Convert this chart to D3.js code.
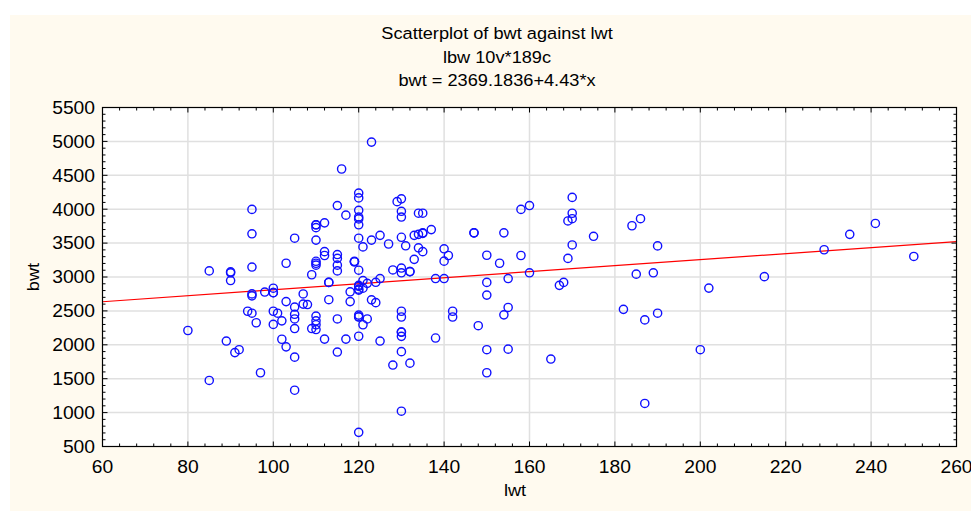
<!DOCTYPE html>
<html><head><meta charset="utf-8">
<script src="https://cdn.jsdelivr.net/npm/d3@7"></script>
<style>
html,body{margin:0;padding:0;background:#fff;}
text{font-family:"Liberation Sans",Arial,sans-serif;fill:#000;}
</style></head>
<body>
<svg id="chart" width="971" height="511"></svg>
<script>
// Low birth weight data (lbw): mother's weight (lwt) and birth weight (bwt)
const lwt = [182,155,105,108,107,124,118,103,123,113,95,150,95,107,100,100,98,118,120,120,121,100,202,120,120,167,122,150,168,113,113,90,121,155,125,140,138,124,215,109,185,189,130,160,90,90,132,132,115,85,120,128,130,95,115,110,110,153,103,119,119,119,110,140,133,169,115,250,141,158,112,150,115,112,135,229,140,134,121,190,131,170,110,127,123,120,105,130,175,125,133,134,235,95,135,135,154,147,147,137,110,184,110,110,120,241,112,169,120,170,186,120,130,117,170,134,135,130,120,95,158,160,115,129,130,120,170,120,116,123,
120,130,187,105,85,150,97,128,132,165,105,91,115,130,92,150,200,155,103,125,89,102,112,117,138,130,120,130,130,80,110,105,109,148,110,121,100,96,102,110,187,122,105,115,120,142,130,120,110,120,154,105,190,101,95,100,94,142,130];
const bwt = [2523,2551,2557,2594,2600,2622,2637,2637,2663,2665,2722,2733,2751,2750,2769,2769,2778,2782,2807,2821,2835,2835,2836,2863,2877,2877,2906,2920,2920,2920,2920,2948,2948,2977,2977,2977,2977,2922,3005,3033,3042,3062,3062,3062,3062,3076,3080,3080,3090,3090,3100,3104,3132,3147,3175,3175,3203,3203,3203,3225,3225,3232,3232,3234,3260,3274,3274,3303,3317,3317,3317,3321,3331,3374,3374,3402,3416,3430,3444,3459,3460,3473,3544,3487,3544,3572,3572,3586,3600,3614,3614,3629,3629,3637,3643,3651,3651,3651,3651,3699,3728,3756,3770,3770,3770,3790,3799,3827,3856,3860,3860,3884,3884,3912,3940,3941,3941,3969,3983,3997,3997,4054,4054,4111,4153,4167,4174,4238,4593,4990,
709,1021,1135,1330,1474,1588,1588,1701,1729,1790,1818,1885,1893,1899,1928,1928,1928,1936,1970,2055,2055,2082,2084,2084,2100,2125,2126,2187,2187,2211,2225,2240,2240,2282,2296,2296,2301,2325,2353,2353,2367,2381,2381,2381,2410,2410,2410,2414,2424,2438,2442,2450,2466,2466,2466,2495,2495,2495,2495];
const xTicks = [60,80,100,120,140,160,180,200,220,240,260];
const yTicks = [500,1000,1500,2000,2500,3000,3500,4000,4500,5000,5500];
const titleLines = ["Scatterplot of bwt against lwt","lbw 10v*189c","bwt = 2369.1836+4.43*x"];
const fitIntercept = 2369.1836, fitSlope = 4.43;

const svg = d3.select("#chart");
svg.append("rect").attr("x",10).attr("y",15).attr("width",961).attr("height",496).attr("fill","#FFFAEF");

const L=102.5, R=956.5, T=107.5, B=446.5;
const x = d3.scaleLinear().domain([60,260]).range([L,R]);
const y = d3.scaleLinear().domain([500,5500]).range([B,T]);

svg.append("rect").attr("x",L).attr("y",T).attr("width",R-L).attr("height",B-T).attr("fill","#fff");

// gridlines
const g = svg.append("g");
g.selectAll(".gx").data(xTicks.slice(1,-1)).join("line")
  .attr("x1",d=>x(d)).attr("x2",d=>x(d)).attr("y1",T).attr("y2",B)
  .attr("stroke","#E0E0E0").attr("stroke-width",1.5);
g.selectAll(".gy").data(yTicks.slice(1,-1)).join("line")
  .attr("y1",d=>y(d)).attr("y2",d=>y(d)).attr("x1",L).attr("x2",R)
  .attr("stroke","#E0E0E0").attr("stroke-width",1.5);

// regression line
svg.append("line")
  .attr("x1",x(60)).attr("y1",y(fitIntercept+fitSlope*60))
  .attr("x2",x(260)).attr("y2",y(fitIntercept+fitSlope*260))
  .attr("stroke","#FF0000").attr("stroke-width",1.2);

// points
svg.append("g").selectAll("circle").data(lwt.map((v,i)=>[v,bwt[i]])).join("circle")
  .attr("cx",d=>x(d[0])).attr("cy",d=>y(d[1])).attr("r",4.1)
  .attr("fill","none").attr("stroke","#1010FF").attr("stroke-width",1.4);

// axes (ticks inside)
const xMinor = d3.range(60,261,4), yMinor = d3.range(500,5501,100);
const ax = svg.append("g").attr("stroke","#000");
ax.selectAll(".xb").data(xMinor).join("line")
  .attr("x1",d=>x(d)).attr("x2",d=>x(d)).attr("y1",B).attr("y2",d=>B-(d%20===0?5:3));
ax.selectAll(".xt").data(xMinor).join("line")
  .attr("x1",d=>x(d)).attr("x2",d=>x(d)).attr("y1",T).attr("y2",d=>T+(d%20===0?5:3));
ax.selectAll(".yl").data(yMinor).join("line")
  .attr("y1",d=>y(d)).attr("y2",d=>y(d)).attr("x1",L).attr("x2",d=>L+(d%500===0?5:3));
ax.selectAll(".yr").data(yMinor).join("line")
  .attr("y1",d=>y(d)).attr("y2",d=>y(d)).attr("x1",R).attr("x2",d=>R-(d%500===0?5:3));
svg.append("rect").attr("x",L).attr("y",T).attr("width",R-L).attr("height",B-T)
  .attr("fill","none").attr("stroke","#000").attr("stroke-width",1.2);

const SX = 1.07;
function place(sel, fx, fy){ return sel.attr("transform",(d,i)=>`translate(${fx(d,i)},${fy(d,i)}) scale(${SX},1)`); }

// tick labels
place(svg.append("g").selectAll("text").data(xTicks).join("text"), d=>x(d), ()=>473)
  .attr("text-anchor","middle").attr("font-size",18).text(d=>d);
place(svg.append("g").selectAll("text").data(yTicks).join("text"), ()=>95, d=>y(d))
  .attr("dy","0.35em").attr("text-anchor","end").attr("font-size",18).text(d=>d);

// titles
place(svg.append("g").selectAll("text").data(titleLines).join("text"), ()=>497, (d,i)=>39+i*23.5)
  .attr("text-anchor","middle").attr("font-size",17).text(d=>d);
svg.append("text").attr("transform",`translate(515,496) scale(${SX},1)`).attr("text-anchor","middle").attr("font-size",17).text("lwt");
svg.append("text").attr("transform",`translate(39,277) rotate(-90) scale(${SX},1)`).attr("text-anchor","middle").attr("font-size",17).text("bwt");
</script>
</body></html>
